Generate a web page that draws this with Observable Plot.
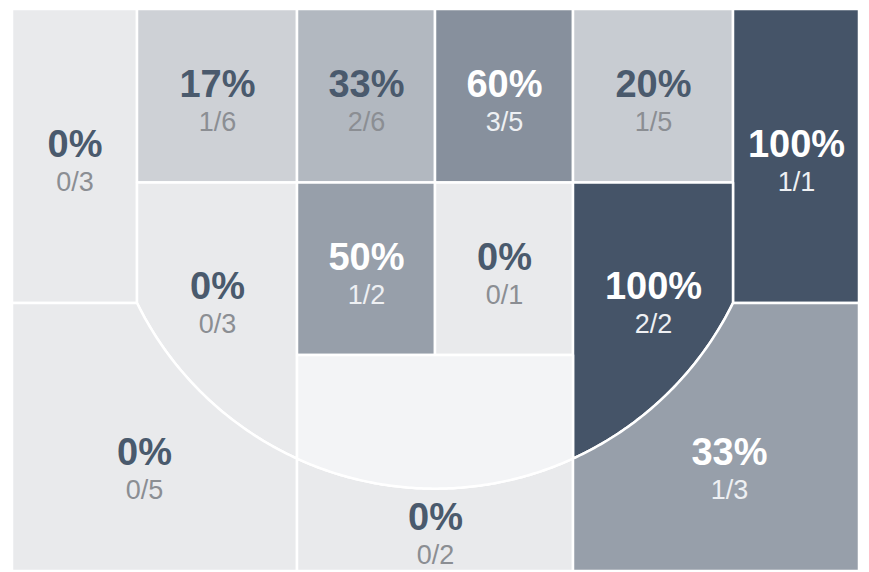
<!DOCTYPE html>
<html>
<head>
<meta charset="utf-8">
<script src="https://cdn.jsdelivr.net/npm/d3@7"></script>
<script src="https://cdn.jsdelivr.net/npm/@observablehq/plot@0.6"></script>
<style>
  html, body { margin: 0; padding: 0; background: #ffffff; }
  #chart { width: 869px; height: 572px; }
  svg { font-family: "Liberation Sans", Arial, sans-serif; }
</style>
</head>
<body>
<div id="chart"></div>
<script>
// ---- Shot data per zone ----
const zoneNames = ["Left corner 3", "Left baseline", "Left block", "Right block", "Right baseline", "Right corner 3",
  "Left short wing", "Left elbow", "Right elbow", "Right short wing", "Lane", "Left wing 3", "Top of key 3", "Right wing 3"];
const made     = [0, 1, 2, 3, 1, 1, 0, 1, 0, 2, 0, 0, 0, 1];
const attempts = [3, 6, 6, 5, 5, 1, 3, 2, 1, 2, 0, 5, 2, 3];
const shotValue = [3, 2, 2, 2, 2, 3, 2, 2, 2, 2, 2, 3, 3, 3];

// ---- Court layout (court units) ----
const colBreaks = [0, 125, 285, 423, 561, 721, 847];
const rowBreaks = [0, 173.5, 294, 346, 562];
const zoneCols = [[0,1],[1,2],[2,3],[3,4],[4,5],[5,6],[1,2],[2,3],[3,4],[4,5],[2,4],[0,2],[2,4],[4,6]];
const zoneRows = [[0,2],[0,1],[0,1],[0,1],[0,1],[0,2],[1,null],[1,3],[1,3],[1,null],[3,null],[2,4],[2,4],[2,4]];
const zoneShape = ["rect","rect","rect","rect","rect","rect","inside","rect","rect","inside","inside","outside","outside","outside"];
const labelX = [62.5, 205, 354, 492, 641, 784, 205, 354, 492, 641, null, 132, 423, 717];
const labelY = [153, 92.5, 92.5, 92.5, 92.5, 153, 295, 266, 266, 295, null, 461, 526, 461];
const arcCx = 423, arcCy = 147.64, arcR = 332;

function arcY(x) {
  const dx = x - arcCx;
  if (Math.abs(dx) >= arcR) return arcCy;
  return arcCy + Math.sqrt(arcR * arcR - dx * dx);
}

const zones = zoneNames.map((name, i) => ({
  zone: name,
  made: made[i],
  att: attempts[i],
  pps: attempts[i] ? shotValue[i] * made[i] / attempts[i] : 0,
  pct: attempts[i] ? Math.round(100 * made[i] / attempts[i]) + "%" : "",
  frac: `${made[i]}/${attempts[i]}`,
  lx: labelX[i],
  ly: labelY[i]
}));

// Build outline samples for each zone
const shapeRows = [];
zones.forEach((z, i) => {
  const x0 = colBreaks[zoneCols[i][0]], x1 = colBreaks[zoneCols[i][1]];
  const r0 = rowBreaks[zoneRows[i][0]];
  const r1 = zoneRows[i][1] == null ? null : rowBreaks[zoneRows[i][1]];
  let xs = d3.range(0, 121).map(k => x0 + (x1 - x0) * k / 120);
  colBreaks.forEach(b => { if (b > x0 && b < x1) xs.push(b); });
  xs = Array.from(new Set(xs)).sort((a, b) => a - b);
  xs.forEach(x => {
    let top, bottom;
    if (zoneShape[i] === "rect") { top = r0; bottom = r1; }
    else if (zoneShape[i] === "inside") { top = r0; bottom = arcY(x); }
    else { top = Math.max(r0, arcY(x)); bottom = r1; }
    shapeRows.push({zone: z.zone, att: z.att, pps: z.pps, x, top, bottom});
  });
});

const shot = zones.filter(d => d.att > 0);
const darkBg = d => d.pps >= 1;

const chart = Plot.plot({
  width: 869,
  height: 572,
  marginLeft: 12,
  marginRight: 10,
  marginTop: 9,
  marginBottom: 1,
  x: {domain: [0, 847], axis: null},
  y: {domain: [0, 562], reverse: true, axis: null},
  color: {type: "linear", domain: [0, 2], range: ["#e9eaec", "#455468"], clamp: true, interpolate: "rgb"},
  style: {fontFamily: "'Liberation Sans', Arial, sans-serif", background: "white"},
  marks: [
    Plot.area(shapeRows.filter(d => d.att > 0), {x1: "x", y1: "top", y2: "bottom", z: "zone", fill: "pps", stroke: "white", strokeWidth: 2.5}),
    Plot.area(shapeRows.filter(d => d.att === 0), {x1: "x", y1: "top", y2: "bottom", z: "zone", fill: "#f3f4f6", stroke: "white", strokeWidth: 2.5}),
    Plot.text(shot.filter(d => !darkBg(d)), {x: "lx", y: "ly", text: "pct", dy: -17.5, fontSize: 38, fontWeight: "bold", fill: "#4a5a6d"}),
    Plot.text(shot.filter(d => !darkBg(d)), {x: "lx", y: "ly", text: "frac", dy: 20, fontSize: 27, fill: "#8b8e93"}),
    Plot.text(shot.filter(darkBg), {x: "lx", y: "ly", text: "pct", dy: -17.5, fontSize: 38, fontWeight: "bold", fill: "#ffffff"}),
    Plot.text(shot.filter(darkBg), {x: "lx", y: "ly", text: "frac", dy: 20, fontSize: 27, fill: "#eef0f3"})
  ]
});
document.getElementById("chart").appendChild(chart);
</script>
</body>
</html>
